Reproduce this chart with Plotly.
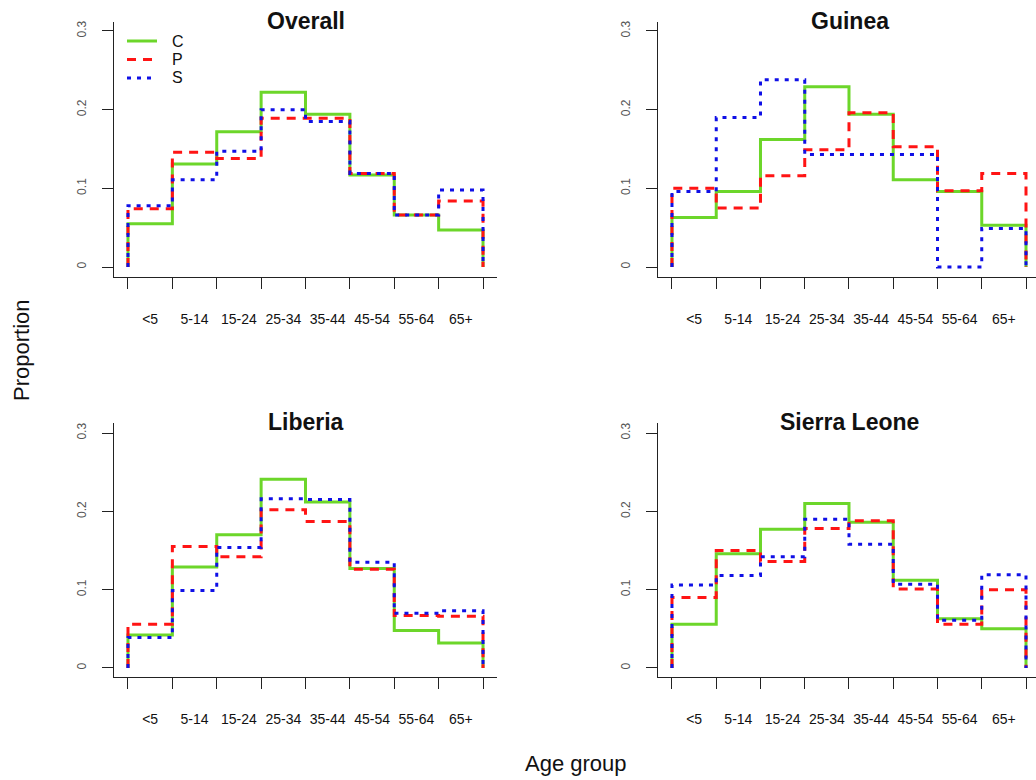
import plotly.graph_objects as go

age_groups = ["<5", "5-14", "15-24", "25-34", "35-44", "45-54", "55-64", "65+"]
panel_titles = ["Overall", "Guinea", "Liberia", "Sierra Leone"]
series_names = ["C", "P", "S"]

overall_C = [0.055, 0.131, 0.172, 0.222, 0.194, 0.117, 0.066, 0.047]
overall_P = [0.074, 0.146, 0.138, 0.189, 0.189, 0.119, 0.066, 0.084]
overall_S = [0.078, 0.111, 0.147, 0.200, 0.185, 0.119, 0.066, 0.098]

guinea_C = [0.063, 0.096, 0.162, 0.229, 0.194, 0.111, 0.096, 0.053]
guinea_P = [0.100, 0.075, 0.116, 0.149, 0.196, 0.153, 0.097, 0.119]
guinea_S = [0.096, 0.190, 0.238, 0.143, 0.143, 0.143, 0.000, 0.049]

liberia_C = [0.042, 0.129, 0.170, 0.241, 0.212, 0.127, 0.048, 0.032]
liberia_P = [0.056, 0.155, 0.142, 0.202, 0.187, 0.126, 0.067, 0.066]
liberia_S = [0.039, 0.099, 0.154, 0.216, 0.215, 0.135, 0.070, 0.073]

sierra_C = [0.056, 0.146, 0.177, 0.210, 0.186, 0.112, 0.063, 0.050]
sierra_P = [0.090, 0.150, 0.136, 0.178, 0.188, 0.101, 0.056, 0.100]
sierra_S = [0.106, 0.118, 0.142, 0.190, 0.158, 0.107, 0.061, 0.119]

y_ticks = [0, 0.1, 0.2, 0.3]
y_tick_text = ["0", "0.1", "0.2", "0.3"]

panel_data = [
    [overall_C, overall_P, overall_S],
    [guinea_C, guinea_P, guinea_S],
    [liberia_C, liberia_P, liberia_S],
    [sierra_C, sierra_P, sierra_S],
]

styles = [
    dict(color="#6cd62a", dash="solid"),
    dict(color="#ff1414", dash="9px,7px"),
    dict(color="#1010e6", dash="4px,6px"),
]

W, H = 1036, 780
# plot-area pixel boxes: (left, right, top, bottom)
boxes = [(114, 497, 22, 277), (658, 1036, 22, 277),
         (114, 497, 423, 677), (658, 1036, 423, 677)]
x_ranges = [[-0.315, 8.315], [-0.316, 8.226], [-0.315, 8.315], [-0.316, 8.226]]
y_ranges = [[-0.0127, 0.3114], [-0.0127, 0.3114], [-0.0115, 0.3128], [-0.0115, 0.3128]]

n = len(age_groups)
bin_centers = [i + 0.5 for i in range(n)]

fig = go.Figure()
for p, series in enumerate(panel_data):
    ax = "" if p == 0 else str(p + 1)
    for s, vals in enumerate(series):
        xs = [0] + list(range(n)) + [n, n]
        ys = [0] + list(vals) + [vals[-1], 0]
        fig.add_trace(go.Scatter(
            x=xs, y=ys, mode="lines", line_shape="hv",
            line=dict(color=styles[s]["color"], dash=styles[s]["dash"], width=3),
            name=series_names[s], showlegend=False,
            xaxis="x" + ax, yaxis="y" + ax, hoverinfo="skip",
        ))

axis_col = "#222222"
layout = dict(
    width=W, height=H, margin=dict(l=0, r=0, t=0, b=0),
    paper_bgcolor="white", plot_bgcolor="white",
    font=dict(family="Liberation Sans, Arial, sans-serif", color="#111"),
    showlegend=False,
)
annotations = []
shapes = []
for p in range(4):
    l, r, t, b = boxes[p]
    ax = "" if p == 0 else str(p + 1)
    layout["xaxis" + ax] = dict(
        domain=[l / W, r / W], anchor="y" + ax, range=x_ranges[p],
        showline=True, linecolor=axis_col, linewidth=1.3, mirror=False,
        tickvals=bin_centers, ticktext=age_groups, ticks="",
        tickfont=dict(size=14, color="#111"), ticklabelstandoff=29,
        minor=dict(ticks="outside", ticklen=11, tickwidth=1.3, tickcolor=axis_col,
                   tick0=0, dtick=1, showgrid=False),
        showgrid=False, zeroline=False, fixedrange=True,
    )
    layout["yaxis" + ax] = dict(
        domain=[1 - b / H, 1 - t / H], anchor="x" + ax, range=y_ranges[p],
        showline=True, linecolor=axis_col, linewidth=1.3,
        tickvals=y_ticks, ticktext=y_tick_text, ticks="outside",
        ticklen=11, tickwidth=1.3, tickcolor=axis_col, tickangle=-90,
        tickfont=dict(size=12, color="#555"), ticklabelstandoff=11,
        showgrid=False, zeroline=False, fixedrange=True,
    )
    annotations.append(dict(
        text="<b>" + panel_titles[p] + "</b>", xref="paper", yref="paper",
        x=(l + r) / 2 / W if p % 2 == 0 else (l + 497 - 114 + l) / 2 / W,
        y=1 - (t - 1) / H, xanchor="center", yanchor="middle",
        showarrow=False, font=dict(size=23, color="#111"),
    ))

# legend (top-left of the first panel)
legend_y = [41, 59.5, 78]
for s in range(3):
    yy = 1 - legend_y[s] / H
    shapes.append(dict(type="line", xref="paper", yref="paper",
                       x0=127 / W, x1=157 / W, y0=yy, y1=yy,
                       line=dict(color=styles[s]["color"], dash=styles[s]["dash"], width=3)))
    annotations.append(dict(text=series_names[s], xref="paper", yref="paper",
                            x=170 / W, y=yy, xanchor="left", yanchor="middle",
                            showarrow=False, font=dict(size=16, color="#111")))

annotations.append(dict(text="Proportion", xref="paper", yref="paper",
                        x=22 / W, y=1 - 350 / H, textangle=-90,
                        xanchor="center", yanchor="middle", showarrow=False,
                        font=dict(size=22, color="#111")))
annotations.append(dict(text="Age group", xref="paper", yref="paper",
                        x=576 / W, y=1 - 763 / H,
                        xanchor="center", yanchor="middle", showarrow=False,
                        font=dict(size=22, color="#111")))
layout["annotations"] = annotations
layout["shapes"] = shapes
fig.update_layout(**layout)
fig.write_html("out.html")
